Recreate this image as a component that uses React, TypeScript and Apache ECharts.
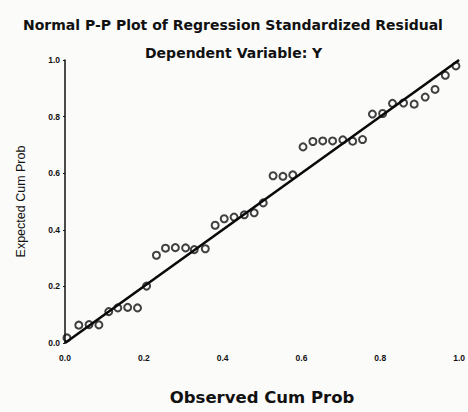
import React, { useEffect, useRef } from "react";
import * as echarts from "echarts";

const titleText = "Normal P-P Plot of Regression Standardized Residual";
const subtitleText = "Dependent Variable: Y";
const xAxisName = "Observed Cum Prob";
const yAxisName = "Expected Cum Prob";

const observedCumProb = [
  0.005, 0.035, 0.061, 0.086, 0.111, 0.134, 0.159, 0.184, 0.207, 0.232,
  0.255, 0.28, 0.306, 0.328, 0.356, 0.381, 0.404, 0.429, 0.455, 0.48,
  0.503, 0.528, 0.553, 0.578, 0.604, 0.629, 0.654, 0.679, 0.705, 0.73,
  0.755, 0.78, 0.806, 0.831, 0.859, 0.886, 0.914, 0.939, 0.965, 0.992,
];
const expectedCumProb = [
  0.018, 0.063, 0.065, 0.064, 0.111, 0.124, 0.126, 0.124, 0.201, 0.31,
  0.335, 0.337, 0.336, 0.33, 0.333, 0.416, 0.439, 0.445, 0.453, 0.46,
  0.495, 0.591, 0.589, 0.594, 0.693, 0.712, 0.714, 0.714, 0.718, 0.713,
  0.719, 0.809, 0.811, 0.847, 0.848, 0.844, 0.869, 0.896, 0.946, 0.979,
];
const referenceLine = [
  [0, 0],
  [1, 1],
];

export default function App() {
  const ref = useRef<HTMLDivElement>(null);
  useEffect(() => {
    if (!ref.current) return;
    const chart = echarts.init(ref.current, null, { renderer: "svg" });
    const points = observedCumProb.map((x, i) => [x, expectedCumProb[i]]);
    chart.setOption({
      animation: false,
      backgroundColor: "#fbfbfa",
      title: [
        {
          text: titleText,
          left: 18,
          top: 13,
          textStyle: {
            fontFamily: "DejaVu Sans",
            fontWeight: "bold",
            fontSize: 14,
            color: "#111",
          },
        },
        {
          text: subtitleText,
          left: 140,
          top: 41,
          textStyle: {
            fontFamily: "DejaVu Sans",
            fontWeight: "bold",
            fontSize: 14,
            color: "#111",
          },
        },
      ],
      grid: { left: 65, top: 60, right: 7, bottom: 69, containLabel: false },
      xAxis: {
        type: "value",
        min: 0,
        max: 1,
        interval: 0.2,
        name: xAxisName,
        nameLocation: "middle",
        nameGap: 46,
        nameTextStyle: {
          fontFamily: "DejaVu Sans",
          fontWeight: "bold",
          fontSize: 16.5,
          color: "#111",
        },
        axisLine: { show: false },
        axisTick: { show: false },
        splitLine: { show: false },
        axisLabel: {
          formatter: (v: number) => v.toFixed(1),
          fontFamily: "Liberation Sans",
          fontWeight: "bold",
          fontSize: 8.5,
          color: "#111",
          margin: 10,
        },
      },
      yAxis: {
        type: "value",
        min: 0,
        max: 1,
        interval: 0.2,
        name: yAxisName,
        nameLocation: "middle",
        nameGap: 38,
        nameTextStyle: {
          fontFamily: "Liberation Sans",
          fontSize: 12.5,
          color: "#111",
          padding: [0, 0, 0, 0],
        },
        axisLine: { show: true, lineStyle: { color: "#111", width: 1.5 } },
        axisTick: { show: true, length: 2, lineStyle: { color: "#111" } },
        splitLine: { show: false },
        axisLabel: {
          formatter: (v: number) => v.toFixed(1),
          fontFamily: "Liberation Sans",
          fontWeight: "bold",
          fontSize: 8.5,
          color: "#111",
          margin: 5,
        },
      },
      series: [
        {
          type: "line",
          data: referenceLine,
          symbol: "none",
          lineStyle: { color: "#0a0a0a", width: 2.6 },
          z: 3,
          silent: true,
        },
        {
          type: "scatter",
          data: points,
          symbol: "circle",
          symbolSize: 7,
          itemStyle: {
            color: "rgba(255,255,255,0)",
            borderColor: "#111",
            borderWidth: 2,
          },
          z: 2,
        },
      ],
    });
    return () => chart.dispose();
  }, []);
  return (
    <div
      ref={ref}
      style={{ position: "fixed", left: 0, top: 0, width: 468, height: 412 }}
    />
  );
}
